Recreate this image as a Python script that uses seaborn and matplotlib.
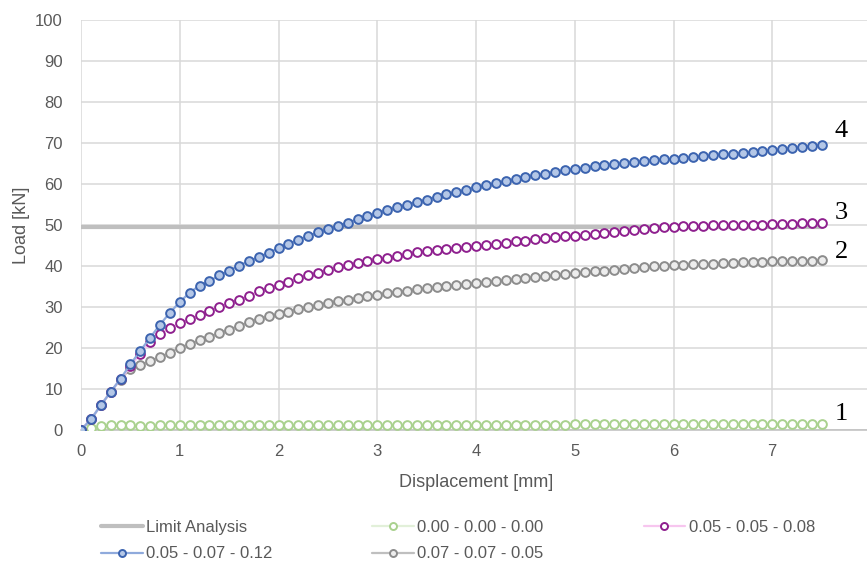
import matplotlib
matplotlib.use("Agg")
import matplotlib.pyplot as plt
import seaborn as sns
import pandas as pd

# displacement steps [mm]
disp = [0.0, 0.1, 0.2, 0.3, 0.4, 0.5, 0.6, 0.7, 0.8, 0.9,
        1.0, 1.1, 1.2, 1.3, 1.4, 1.5, 1.6, 1.7, 1.8, 1.9,
        2.0, 2.1, 2.2, 2.3, 2.4, 2.5, 2.6, 2.7, 2.8, 2.9,
        3.0, 3.1, 3.2, 3.3, 3.4, 3.5, 3.6, 3.7, 3.8, 3.9,
        4.0, 4.1, 4.2, 4.3, 4.4, 4.5, 4.6, 4.7, 4.8, 4.9,
        5.0, 5.1, 5.2, 5.3, 5.4, 5.5, 5.6, 5.7, 5.8, 5.9,
        6.0, 6.1, 6.2, 6.3, 6.4, 6.5, 6.6, 6.7, 6.8, 6.9,
        7.0, 7.1, 7.2, 7.3, 7.4, 7.5]

# load [kN] per case
load_1 = [0.0, 0.5, 0.9, 1.1, 1.2, 1.2, 0.9, 0.9, 1.1, 1.1,
          1.2, 1.1, 1.1, 1.1, 1.1, 1.1, 1.1, 1.1, 1.1, 1.1,
          1.2, 1.1, 1.1, 1.1, 1.1, 1.2, 1.2, 1.1, 1.1, 1.2,
          1.2, 1.2, 1.2, 1.2, 1.2, 1.2, 1.2, 1.2, 1.2, 1.2,
          1.3, 1.3, 1.3, 1.3, 1.3, 1.3, 1.3, 1.3, 1.3, 1.3,
          1.4, 1.4, 1.4, 1.4, 1.4, 1.4, 1.4, 1.4, 1.4, 1.4,
          1.5, 1.5, 1.5, 1.5, 1.5, 1.5, 1.5, 1.5, 1.5, 1.5,
          1.5, 1.5, 1.5, 1.5, 1.5, 1.5]
load_2 = [0.0, 2.6, 6.0, 9.3, 12.3, 15.0, 15.8, 16.9, 17.8, 18.9,
          20.1, 21.0, 21.9, 22.8, 23.6, 24.5, 25.4, 26.3, 27.1, 27.7,
          28.2, 28.9, 29.5, 30.0, 30.5, 31.0, 31.4, 31.8, 32.2, 32.6,
          33.0, 33.4, 33.7, 34.0, 34.3, 34.6, 34.9, 35.2, 35.4, 35.6,
          35.9, 36.1, 36.4, 36.6, 36.8, 37.1, 37.3, 37.5, 37.7, 38.0,
          38.2, 38.5, 38.7, 38.9, 39.1, 39.3, 39.5, 39.7, 39.9, 40.0,
          40.2, 40.3, 40.4, 40.5, 40.6, 40.7, 40.8, 40.9, 41.0, 41.0,
          41.1, 41.2, 41.2, 41.3, 41.3, 41.4]
load_3 = [0.0, 2.6, 6.0, 9.3, 12.4, 15.5, 18.6, 21.5, 23.5, 24.8,
          26.0, 27.0, 28.0, 29.0, 30.0, 30.9, 31.8, 32.7, 33.8, 34.7,
          35.4, 36.2, 37.0, 37.7, 38.4, 39.1, 39.7, 40.3, 40.8, 41.2,
          41.6, 42.0, 42.4, 42.9, 43.3, 43.6, 43.9, 44.2, 44.4, 44.6,
          44.8, 45.1, 45.4, 45.7, 46.0, 46.2, 46.5, 46.8, 47.0, 47.2,
          47.4, 47.6, 47.8, 48.0, 48.3, 48.6, 48.9, 49.1, 49.3, 49.5,
          49.6, 49.7, 49.8, 49.8, 49.9, 49.9, 50.0, 50.0, 50.1, 50.1,
          50.2, 50.3, 50.3, 50.4, 50.4, 50.5]
load_4 = [0.0, 2.6, 6.0, 9.3, 12.5, 16.0, 19.3, 22.5, 25.7, 28.6,
          31.2, 33.5, 35.2, 36.3, 37.7, 38.9, 40.1, 41.2, 42.2, 43.2,
          44.4, 45.4, 46.4, 47.3, 48.2, 49.0, 49.8, 50.6, 51.4, 52.1,
          52.9, 53.6, 54.3, 55.0, 55.6, 56.2, 56.9, 57.5, 58.0, 58.6,
          59.2, 59.7, 60.2, 60.7, 61.2, 61.7, 62.1, 62.5, 62.9, 63.3,
          63.7, 64.0, 64.3, 64.6, 64.9, 65.1, 65.4, 65.6, 65.8, 66.0,
          66.2, 66.4, 66.6, 66.8, 67.0, 67.2, 67.4, 67.6, 67.8, 68.0,
          68.2, 68.5, 68.8, 69.0, 69.3, 69.5]

limit_x = [0.0, 7.5]
limit_y = [49.5, 49.5]

case_names = ["0.00 - 0.00 - 0.00", "0.07 - 0.07 - 0.05",
              "0.05 - 0.05 - 0.08", "0.05 - 0.07 - 0.12"]
curve_tags = ["1", "2", "3", "4"]
tag_y = [3.9, 43.5, 53.0, 73.0]

sns.set_theme(style="white")
plt.rcParams["font.family"] = ["Liberation Sans", "DejaVu Sans"]

fig = plt.figure(figsize=(8.67, 5.64), dpi=100)
ax = fig.add_axes([81 / 867, 134 / 564, 790 / 867, 410 / 564])

df = pd.DataFrame({"disp": disp, "c1": load_1, "c2": load_2,
                   "c3": load_3, "c4": load_4})

h_lim, = ax.plot(limit_x, limit_y, color="#BFBFBF", lw=3, zorder=2,
                 label="Limit Analysis")

styles = {
    "c1": dict(color="#E2F0D9", mec="#A9D18E", mfc="white"),
    "c2": dict(color="#BFBFBF", mec="#8C8C8C", mfc="#EDEDED"),
    "c3": dict(color="#F7C6EF", mec="#8E1F8E", mfc="white"),
    "c4": dict(color="#8FAADC", mec="#3B63AF", mfc="#B4C7E7"),
}
handles = {}
for col, name in zip(["c1", "c2", "c3", "c4"], case_names):
    st = styles[col]
    sns.lineplot(data=df, x="disp", y=col, ax=ax, color=st["color"], lw=1.6,
                 marker="o", markersize=6.3, markeredgewidth=1.4,
                 markeredgecolor=st["mec"], markerfacecolor=st["mfc"],
                 label=name, zorder=3, legend=False)
    handles[name] = ax.lines[-1]

for tag, ty in zip(curve_tags, tag_y):
    ax.text(7.63, ty, tag, family="Liberation Serif", fontsize=19,
            color="black", va="center", ha="left")

ax.set_xlim(0, 8)
ax.set_ylim(0, 100)
ax.set_xticks(range(0, 9))
ax.set_yticks(range(0, 101, 10))
ax.grid(True, color="#D9D9D9", lw=1.1)
for s in ["top", "right", "left"]:
    ax.spines[s].set_visible(False)
ax.spines["bottom"].set_color("#BFBFBF")
ax.spines["bottom"].set_linewidth(1.1)
ax.tick_params(axis="both", length=0, labelsize=12, colors="#595959")
ax.tick_params(axis="y", pad=13)
ax.tick_params(axis="x", pad=10)
ax.set_xlabel("Displacement [mm]", fontsize=13, color="#595959", labelpad=11)
ax.set_ylabel("Load [kN]", fontsize=13, color="#595959", labelpad=4)

order = [h_lim, handles["0.05 - 0.07 - 0.12"], handles["0.00 - 0.00 - 0.00"],
         handles["0.07 - 0.07 - 0.05"], handles["0.05 - 0.05 - 0.08"]]
fig.legend(handles=order, labels=[h.get_label() for h in order], ncol=3,
           loc="lower left", bbox_to_anchor=(86 / 867, -0.022), frameon=False,
           fontsize=12, labelcolor="#595959", handlelength=2.5,
           handletextpad=0.2, columnspacing=6.0, labelspacing=0.68,
           markerscale=0.8)

fig.savefig("out.png", dpi=100)
